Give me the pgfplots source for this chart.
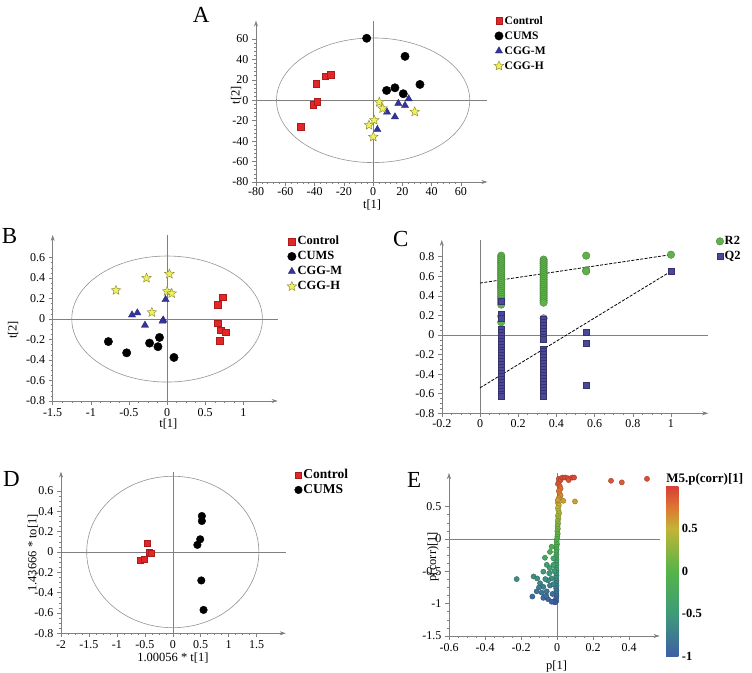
\documentclass[border=0pt]{standalone}
\usepackage{fontspec}
\setmainfont{Liberation Serif}
\usepackage{pgfplots}
\pgfplotsset{compat=1.18}
\usetikzlibrary{arrows.meta}

\definecolor{cred}{RGB}{228,38,38}
\definecolor{cblue}{RGB}{52,52,155}
\definecolor{cyel}{RGB}{240,240,90}
\definecolor{cgreen}{RGB}{95,178,75}
\definecolor{cpurp}{RGB}{75,72,155}

% filled five-point star
\pgfdeclareplotmark{fstar}{%
  \pgfpathmoveto{\pgfqpointpolar{90}{\pgfplotmarksize}}%
  \pgfpathlineto{\pgfqpointpolar{126}{0.45\pgfplotmarksize}}%
  \pgfpathlineto{\pgfqpointpolar{162}{\pgfplotmarksize}}%
  \pgfpathlineto{\pgfqpointpolar{198}{0.45\pgfplotmarksize}}%
  \pgfpathlineto{\pgfqpointpolar{234}{\pgfplotmarksize}}%
  \pgfpathlineto{\pgfqpointpolar{270}{0.45\pgfplotmarksize}}%
  \pgfpathlineto{\pgfqpointpolar{306}{\pgfplotmarksize}}%
  \pgfpathlineto{\pgfqpointpolar{342}{0.45\pgfplotmarksize}}%
  \pgfpathlineto{\pgfqpointpolar{18}{\pgfplotmarksize}}%
  \pgfpathlineto{\pgfqpointpolar{54}{0.45\pgfplotmarksize}}%
  \pgfpathclose\pgfusepathqfillstroke}

\tikzset{ell/.style={gray!85, line width=0.6pt}}

\pgfplotsset{
  simca/.style={scale only axis, anchor=south west, clip=false,
    axis lines=left,
    axis line style={gray, line width=0.6pt, -{Stealth[length=6pt,width=4pt]}},
    tick style={gray, line width=0.5pt}, tick align=outside,
    major tick length=4pt, minor tick length=2pt, minor tick num=3,
    ticklabel style={font=\fontsize{12}{12}\selectfont},
    label style={font=\fontsize{12.5}{13}\selectfont},
    /pgf/number format/assume math mode=true,
    /pgf/number format/fixed,
    legend cell align=left,
    legend image code/.code={\draw[##1] plot coordinates {(0pt,0pt)};},
    legend style={draw=none, fill=none, anchor=north west, inner sep=0pt,
      font=\fontsize{12.5}{14}\selectfont\bfseries, row sep=0.5pt,
      nodes={inner sep=1pt, text height=9.5pt, text depth=3pt}},
  },
  zl/.style={gray, line width=0.5pt, forget plot},
  ctrl/.style={only marks, mark=square*, mark size=3.3,
    mark options={fill=cred, draw=cred!75!black, line width=0.3pt}},
  cums/.style={only marks, mark=*, mark size=4.2,
    mark options={fill=black, draw=black}},
  cggm/.style={only marks, mark=triangle*, mark size=4.2,
    mark options={fill=cblue, draw=cblue!70!black, line width=0.3pt}},
  cggh/.style={only marks, mark=fstar, mark size=5,
    mark options={fill=cyel, draw=cyel!55!black, line width=0.4pt}},
}

\begin{document}
\begin{tikzpicture}
\useasboundingbox (0pt,0pt) rectangle (752pt,672pt);

% ---------------- A
\begin{axis}[simca, at={(256pt,490pt)}, width=231.3pt, height=161.4pt,
  xmin=-80, xmax=78, ymin=-80, ymax=78,
  xtick={-80,-60,-40,-20,0,20,40,60}, ytick={-80,-60,-40,-20,0,20,40,60},
  minor tick num=4,
  xticklabel style={yshift=2.5pt},
  xlabel={t[1]}, ylabel={t[2]},
  xlabel style={at={(axis description cs:0.502,-0.14)}, anchor=center},
  ylabel style={at={(axis description cs:-0.086,0.539)}, anchor=center},
  legend style={at={(1.029,1.044)}, font=\fontsize{11.5}{13}\selectfont\bfseries}]
\addplot[zl] coordinates {(-80,0) (78,0)};
\addplot[zl] coordinates {(0,-80) (0,78)};
\draw[ell] (axis cs:0,0) ellipse [x radius=66, y radius=61];
\addplot[ctrl] coordinates {(-49.3,-26) (-41.1,-4.1) (-38.3,-1.5) (-38.8,16.5) (-32.9,23.7) (-29.2,25)};
\addplot[cums] coordinates {(-4.4,60.7) (21.8,43) (9.2,9.6) (14.9,12.2) (20.6,6.4) (32,15.5)};
\addplot[cggm] coordinates {(2.9,-28.6) (9.5,-11.6) (14.9,-16.2) (17.2,-3.1) (21.8,-5.1) (24.3,1.4)};
\addplot[cggh] coordinates {(4.2,-1.8) (6.5,-8) (28.4,-11.3) (0.8,-19.5) (-2.8,-24.4) (0.1,-35.8)};
\legend{Control,CUMS,CGG-M,CGG-H}
\end{axis}

% ---------------- B
\begin{axis}[simca, at={(52.7pt,271pt)}, width=225pt, height=166pt,
  xmin=-1.5, xmax=1.45, ymin=-0.8, ymax=0.82,
  xtick={-1.5,-1,-0.5,0,0.5,1}, ytick={-0.8,-0.6,-0.4,-0.2,0,0.2,0.4,0.6},
  xlabel={t[1]}, ylabel={t[2]},
  xlabel style={at={(axis description cs:0.514,-0.139)}, anchor=center},
  ylabel style={at={(axis description cs:-0.176,0.428)}, anchor=center},
  legend style={at={(1.041,1.006)}}]
\addplot[zl] coordinates {(-1.5,0) (1.45,0)};
\addplot[zl] coordinates {(0,-0.8) (0,0.82)};
\draw[ell] (axis cs:0,0) ellipse [x radius=1.25, y radius=0.615];
\addplot[ctrl] coordinates {(0.73,0.215) (0.66,0.14) (0.66,-0.04) (0.70,-0.11) (0.77,-0.13) (0.69,-0.21)};
\addplot[cums] coordinates {(-0.77,-0.22) (-0.53,-0.33) (-0.23,-0.235) (-0.10,-0.18) (-0.12,-0.27) (0.09,-0.375)};
\addplot[cggm] coordinates {(-0.02,0.19) (-0.46,0.04) (-0.39,0.06) (-0.29,-0.06) (-0.05,-0.01) (-0.06,-0.02)};
\addplot[cggh] coordinates {(-0.67,0.28) (-0.27,0.40) (0.03,0.44) (0.0,0.27) (0.06,0.25) (-0.20,0.065)};
\legend{Control,CUMS,CGG-M,CGG-H}
\end{axis}

% ---------------- C
\begin{axis}[simca, at={(441.8pt,258.7pt)}, width=266.4pt, height=173.3pt,
  xmin=-0.2, xmax=1.195, ymin=-0.8, ymax=0.97,
  xtick={-0.2,0,0.2,0.4,0.6,0.8,1}, ytick={-0.8,-0.6,-0.4,-0.2,0,0.2,0.4,0.6,0.8},
  xticklabel style={yshift=1pt},
  legend style={at={(1.029,1.035)}}]
\addplot[zl] coordinates {(-0.2,0) (1.195,0)};
\addplot[zl] coordinates {(0,-0.8) (0,0.97)};
\addplot[only marks, mark=*, mark size=3.8,
  mark options={fill=cgreen, draw=cgreen!70!black, line width=0.3pt}] coordinates {
  (0.111,0.81) (0.111,0.79) (0.111,0.77) (0.111,0.75) (0.111,0.73) (0.111,0.71)
  (0.111,0.69) (0.111,0.67) (0.111,0.65) (0.111,0.63) (0.111,0.61) (0.111,0.59)
  (0.111,0.57) (0.111,0.55) (0.111,0.53) (0.111,0.51) (0.111,0.49) (0.111,0.47)
  (0.111,0.45) (0.111,0.43) (0.111,0.41) (0.111,0.39) (0.111,0.37) (0.111,0.35)
  (0.111,0.33) (0.111,0.31) (0.111,0.19) (0.111,0.13)
  (0.333,0.77) (0.333,0.75) (0.333,0.73) (0.333,0.71) (0.333,0.69) (0.333,0.67)
  (0.333,0.65) (0.333,0.63) (0.333,0.61) (0.333,0.59) (0.333,0.57) (0.333,0.55)
  (0.333,0.53) (0.333,0.51) (0.333,0.49) (0.333,0.47) (0.333,0.45) (0.333,0.43)
  (0.333,0.41) (0.333,0.39) (0.333,0.37) (0.333,0.35) (0.333,0.33) (0.333,0.17)
  (0.556,0.81) (0.556,0.66) (0.556,0.65) (1,0.82)};
\addplot[only marks, mark=square*, mark size=3,
  mark options={fill=cpurp, draw=cpurp!70!black, line width=0.3pt}] coordinates {
  (0.111,0.35) (0.111,0.21) (0.111,0.17) (0.111,0.06) (0.111,0.03) (0.111,0.00)
  (0.111,-0.03) (0.111,-0.06) (0.111,-0.09) (0.111,-0.12) (0.111,-0.15) (0.111,-0.18)
  (0.111,-0.21) (0.111,-0.24) (0.111,-0.27) (0.111,-0.30) (0.111,-0.33) (0.111,-0.36)
  (0.111,-0.39) (0.111,-0.42) (0.111,-0.45) (0.111,-0.48) (0.111,-0.51) (0.111,-0.54)
  (0.111,-0.57) (0.111,-0.60) (0.111,-0.62)
  (0.333,0.16) (0.333,0.13) (0.333,0.10) (0.333,0.07) (0.333,0.04) (0.333,0.01)
  (0.333,-0.02) (0.333,-0.04) (0.333,-0.14) (0.333,-0.17) (0.333,-0.20) (0.333,-0.23)
  (0.333,-0.26) (0.333,-0.29) (0.333,-0.32) (0.333,-0.35) (0.333,-0.38) (0.333,-0.41)
  (0.333,-0.44) (0.333,-0.47) (0.333,-0.50) (0.333,-0.53) (0.333,-0.56) (0.333,-0.59)
  (0.333,-0.62)
  (0.556,0.03) (0.556,-0.08) (0.556,-0.51) (1,0.65)};
\addplot[black, dashed, dash pattern=on 3pt off 1.5pt, line width=0.8pt, forget plot] coordinates {(0,0.53) (1,0.82)};
\addplot[black, dashed, dash pattern=on 3pt off 1.5pt, line width=0.8pt, forget plot] coordinates {(0,-0.54) (1,0.65)};
\legend{R2,Q2}
\end{axis}

% ---------------- D
\begin{axis}[simca, at={(61pt,38.7pt)}, width=224.7pt, height=161.6pt,
  xmin=-2, xmax=2.02, ymin=-0.8, ymax=0.79,
  xtick={-2,-1.5,-1,-0.5,0,0.5,1,1.5}, ytick={-0.8,-0.6,-0.4,-0.2,0,0.2,0.4,0.6},
  xlabel={1.00056 * t[1]}, ylabel={1.43666 * to[1]},
  xlabel style={at={(axis description cs:0.498,-0.153)}, anchor=center},
  ylabel style={at={(axis description cs:-0.125,0.497)}, anchor=center},
  legend style={at={(1.039,1.026)}, font=\fontsize{13.5}{15}\selectfont\bfseries}]
\addplot[zl] coordinates {(-2,0) (2.02,0)};
\addplot[zl] coordinates {(0,-0.8) (0,0.79)};
\draw[ell] (axis cs:0,0) ellipse [x radius=1.54, y radius=0.745];
\addplot[ctrl, mark size=3] coordinates {(-0.45,0.085) (-0.42,0.0) (-0.39,-0.01) (-0.58,-0.085) (-0.52,-0.07)};
\addplot[cums, mark size=3.8] coordinates {(0.52,0.354) (0.52,0.305) (0.49,0.125) (0.44,0.07) (0.51,-0.28) (0.55,-0.57)};
\legend{Control,CUMS}
\end{axis}

% ---------------- E
\begin{axis}[simca, at={(449pt,36pt)}, width=210.6pt, height=163pt,
  xmin=-0.6, xmax=0.57, ymin=-1.5, ymax=1.02,
  xtick={-0.6,-0.4,-0.2,0,0.2,0.4}, ytick={-1.5,-1,-0.5,0,0.5},
  xlabel={p[1]}, ylabel={p(corr)[1]},
  xlabel style={at={(axis description cs:0.511,-0.188)}, anchor=center},
  ylabel style={at={(axis description cs:-0.076,0.487)}, anchor=center},
  colormap={simca}{rgb255(0cm)=(62,95,165) rgb255(2cm)=(62,155,120)
    rgb255(4cm)=(85,180,72) rgb255(6cm)=(195,180,55) rgb255(7cm)=(222,118,50)
    rgb255(8cm)=(215,62,55)},
  point meta min=-1, point meta max=1,
  colorbar,
  colorbar style={at={(parent axis.north east)}, anchor=north west,
    xshift=-2pt, yshift=-13pt, width=12.3pt, height=170pt,
    ytick={-1,-0.5,0,0.5}, major tick length=0pt,
    axis line style={draw=none},
    yticklabel style={font=\fontsize{12.5}{13}\selectfont\bfseries,
      /pgf/number format/assume math mode=true},
    title={M5.p(corr)[1]},
    title style={at={(0,1)}, anchor=south west, inner sep=2pt, xshift=-2pt,
      yshift=-7pt, font=\fontsize{13}{13}\selectfont\bfseries}}]
\addplot[zl] coordinates {(-0.6,0) (0.57,0)};
\addplot[zl] coordinates {(0,-1.5) (0,1.02)};
\addplot[scatter, only marks, mark=*, mark size=2.6, point meta=y,
  scatter/use mapped color={draw=mapped color!75!black, fill=mapped color}] coordinates {
  (0.005,0.56) (0.01,0.52) (0.005,0.48) (0.008,0.44) (0.012,0.40) (0.005,0.36)
  (0.008,0.32) (0.004,0.28) (0.006,0.24) (0.003,0.20) (0.005,0.16) (0.002,0.12)
  (0.004,0.08) (0.002,0.04) (0.0,0.0) (-0.002,-0.04) (0.0,-0.08) (-0.003,-0.12)
  (-0.002,-0.16) (-0.004,-0.20) (-0.003,-0.24) (-0.005,-0.28) (-0.003,-0.32)
  (-0.004,-0.36) (-0.003,-0.40) (-0.005,-0.44) (-0.003,-0.48) (-0.004,-0.52)
  (-0.003,-0.56) (-0.005,-0.60) (-0.003,-0.64) (-0.004,-0.68) (-0.003,-0.72)
  (-0.005,-0.76) (-0.003,-0.80) (-0.004,-0.84) (-0.003,-0.88) (-0.005,-0.92)
  (-0.004,-0.96) (-0.01,-0.98) (-0.02,-0.97)
  (-0.224,-0.62) (-0.13,-0.58) (-0.11,-0.61) (-0.137,-0.89) (-0.067,-0.29)
  (-0.039,-0.2) (-0.03,-0.12) (-0.057,-0.40) (-0.076,-0.505) (-0.043,-0.53)
  (-0.094,-0.685) (-0.076,-0.74) (-0.113,-0.81) (-0.085,-0.83) (-0.057,-0.81)
  (-0.076,-0.91) (-0.05,-0.93) (-0.03,-0.97) (-0.039,-0.72) (-0.03,-0.61)
  (-0.05,-0.64) (-0.02,-0.40) (-0.02,-0.3) (-0.015,-0.5) (-0.02,-0.7)
  (-0.025,-0.85) (-0.065,-0.62) (-0.1,-0.75) (-0.06,-0.88) (-0.04,-0.45)
  (0.005,0.85) (0.015,0.82) (0.02,0.78) (0.01,0.74) (0.015,0.70) (0.02,0.67)
  (0.01,0.63) (0.005,0.60) (0.035,0.59) (0.10,0.58) (0.01,0.88)
  (0.01,0.93) (0.02,0.91) (0.03,0.95) (0.045,0.95) (0.06,0.94) (0.065,0.91)
  (0.085,0.95) (0.095,0.95) (0.30,0.90) (0.36,0.875) (0.50,0.93)};
\end{axis}

% panel letters
\node[anchor=base west, inner sep=0pt, font=\fontsize{23}{23}\selectfont] at (192.7pt,649.3pt) {A};
\node[anchor=base west, inner sep=0pt, font=\fontsize{23}{23}\selectfont] at (1.7pt,428pt) {B};
\node[anchor=base west, inner sep=0pt, font=\fontsize{23}{23}\selectfont] at (393pt,425pt) {C};
\node[anchor=base west, inner sep=0pt, font=\fontsize{23}{23}\selectfont] at (3pt,185pt) {D};
\node[anchor=base west, inner sep=0pt, font=\fontsize{23}{23}\selectfont] at (407pt,184pt) {E};
\end{tikzpicture}
\end{document}
